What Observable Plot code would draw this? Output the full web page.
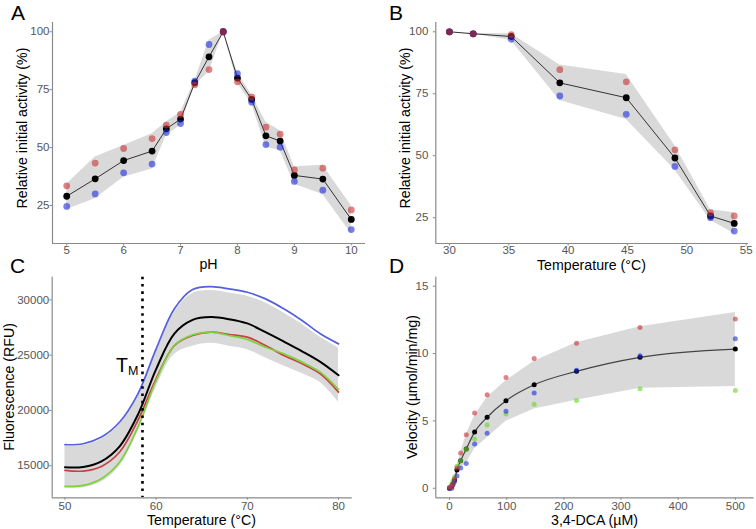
<!DOCTYPE html>
<html><head><meta charset="utf-8">
<script src="https://cdn.jsdelivr.net/npm/d3@7"></script>
<script src="https://cdn.jsdelivr.net/npm/@observablehq/plot@0.6"></script>
<style>
body{margin:0;background:#fff;}
#fig{position:relative;width:756px;height:529px;overflow:hidden;background:#fff;font-family:"Liberation Sans",Arial,sans-serif;}
.panel{position:absolute;}
.lbl{position:absolute;font-family:"Liberation Sans",Arial,sans-serif;font-size:21px;color:#000;line-height:0.8;}
.xt{position:absolute;font-size:14.2px;color:#000;transform:translate(-50%,-50%);white-space:nowrap;line-height:0.85;}
.yt{position:absolute;font-size:14.2px;color:#000;transform:translate(-50%,-50%) rotate(-90deg);white-space:nowrap;line-height:0.85;}
.tm{position:absolute;font-size:19.5px;color:#000;line-height:1;white-space:nowrap;}
</style></head><body><div id="fig"></div>
<script>
// ---------- Panel A: pH ----------
const pH      = [5, 5.5, 6, 6.5, 6.75, 7, 7.25, 7.5, 7.75, 8, 8.25, 8.5, 8.75, 9, 9.5, 10];
const pHMean  = [29.0, 36.5, 44.4, 48.5, 58.1, 62.3, 78.0, 89.2, 100, 80.0, 70.8, 55.1, 52.8, 38.0, 36.4, 19.0];
const pHRed   = [33.5, 43.3, 49.6, 53.9, 59.7, 64.3, 77.1, 83.7, 100, 78.4, 71.9, 58.8, 55.8, 40.4, 41.1, 23.1];
const pHBlue  = [24.6, 30.0, 39.1, 42.9, 56.5, 60.4, 78.7, 94.5, 100, 81.9, 69.6, 51.3, 50.2, 35.4, 31.6, 14.6];
const pHHi    = [34.2, 45.9, 50.9, 56.0, 61.0, 65.3, 78.9, 96.3, 100, 82.6, 72.6, 61.0, 57.3, 41.7, 42.4, 24.9];
const pHLo    = [23.3, 27.9, 37.2, 40.8, 55.2, 59.6, 76.8, 82.6, 100, 77.8, 68.9, 50.1, 48.7, 34.2, 29.7, 12.8];
const pHTicks = [5, 6, 7, 8, 9, 10];
const actTicks = [25, 50, 75, 100];

// ---------- Panel B: temperature activity ----------
const tempB     = [30, 32, 35.2, 39.3, 44.9, 49, 52, 54];
const tempMean  = [100, 99.2, 98.1, 79.4, 73.4, 49.1, 25.7, 22.7];
const tempRed   = [100, 99.2, 98.8, 84.7, 79.8, 52.4, 27.0, 25.7];
const tempBlue  = [100, 99.2, 97.0, 74.1, 66.7, 45.7, 25.0, 19.6];
const tempHi    = [100, 99.3, 99.2, 86.6, 82.8, 54.0, 28.2, 27.0];
const tempLo    = [100, 99.1, 96.5, 72.3, 64.6, 44.2, 24.0, 18.5];
const tempBTicks = [30, 35, 40, 45, 50, 55];

// ---------- Panel C: melt curves ----------
const tempC   = [50, 52, 54, 56, 58, 60, 62, 64, 66, 68, 70, 72, 74, 76, 78, 80];
const fluBlue = [16900, 16990, 17590, 18950, 21500, 25570, 29190, 30930, 31200, 30990, 30690, 30090, 29190, 28130, 26930, 26020];
const fluRed  = [14580, 14520, 14940, 16240, 19100, 22860, 25870, 26780, 27080, 26870, 26630, 25870, 24970, 24220, 23310, 21660];
const fluGreen= [13130, 13220, 13830, 15330, 18490, 22710, 25870, 26840, 27080, 26780, 26420, 25720, 25120, 24370, 23460, 21900];
const fluMean = [14860, 14890, 15400, 16760, 19620, 23740, 26950, 28190, 28440, 28250, 27870, 27080, 26230, 25350, 24390, 23180];
const fluHi   = [16770, 16820, 17390, 18720, 21290, 25330, 28890, 30570, 30840, 30620, 30320, 29710, 28820, 27790, 26610, 25650];
const fluLo   = [12970, 13000, 13520, 14960, 18110, 22100, 25070, 25800, 26070, 25800, 25500, 24750, 24030, 23350, 22520, 20740];
const tempCTicks = [50, 60, 70, 80];
const fluTicks = [15000, 20000, 25000, 30000];
const tm = [58.5];

// ---------- Panel D: kinetics ----------
const dca      = [0, 3.9, 5.9, 8.8, 13, 19.5, 29.3, 43.9, 65.8, 98.8, 148.1, 222.2, 333.3, 500];
const velMean  = [0, 0.15, 0.35, 0.62, 1.36, 2.05, 2.92, 4.17, 5.27, 6.5, 7.68, 8.68, 9.72, 10.33];
const velRed   = [0.05, 0.1, 0.3, 0.7, 1.5, 2.62, 3.98, 5.58, 6.95, 8.23, 9.63, 10.77, 11.93, 12.57];
const velBlue  = [0, 0.0, 0.25, 0.5, 0.9, 1.5, 1.84, 3.28, 4.08, 5.72, 7.08, 8.76, 9.83, 11.1];
const velGreen = [0.1, 0.3, 0.55, 0.85, 1.63, 2.05, 2.9, 3.65, 4.7, 5.52, 6.24, 6.51, 7.38, 7.25];
const velHi    = [0.05, 0.3, 0.5, 0.85, 1.73, 2.62, 3.97, 5.39, 6.74, 7.99, 9.42, 10.8, 11.99, 13.05];
const velLo    = [0, 0.0, 0.2, 0.35, 0.95, 1.5, 1.83, 2.93, 3.74, 4.97, 5.88, 6.54, 7.43, 7.55];
const dcaTicks = [0, 100, 200, 300, 400, 500];
const velTicks = [0, 5, 10, 15];

// colours
const RED = "rgb(200,50,50)", BLUE = "rgb(30,45,220)", GREEN = "rgb(110,215,50)";
const LRED = "rgb(200,65,65)", LBLUE = "rgb(85,95,225)", LGREEN = "rgb(125,210,60)";
const RIB = "#d9d9d9", AXIS = "#8a8a8a";

const fig = document.getElementById("fig");

function rows(xs, cols) {
  return xs.map((x, i) => { const r = {x}; for (const k in cols) r[k] = cols[k][i]; return r; });
}

function panel(cfg, marks) {
  const p = Plot.plot({
    width: cfg.w, height: cfg.h,
    marginLeft: cfg.mL, marginRight: cfg.mR, marginTop: cfg.mT, marginBottom: cfg.mB,
    x: {domain: cfg.xd},
    y: {domain: cfg.yd},
    style: {fontFamily: '"Liberation Sans", Arial, sans-serif', fontSize: "11.5px", color: "#555", background: "transparent", overflow: "visible"},
    marks: [
      ...marks,
      Plot.ruleY([cfg.yd[0]], {stroke: AXIS, strokeWidth: 1.2}),
      Plot.ruleX([cfg.xd[0]], {stroke: AXIS, strokeWidth: 1.2}),
      Plot.axisX(cfg.xt, {tickSize: 2.5, tickPadding: cfg.xp, label: null, tickFormat: d => String(d), stroke: AXIS}),
      Plot.axisY(cfg.yt, {tickSize: 2.5, tickPadding: cfg.yp, label: null, tickFormat: d => String(d), stroke: AXIS})
    ]
  });
  const d = document.createElement("div");
  d.className = "panel";
  d.style.left = cfg.left + "px"; d.style.top = cfg.top + "px";
  d.appendChild(p);
  fig.appendChild(d);
}

function addText(cls, txt, x, y) {
  const d = document.createElement("div");
  d.className = cls; d.textContent = txt;
  d.style.left = x + "px"; d.style.top = y + "px";
  fig.appendChild(d);
}

// Panel A
const dA = rows(pH, {m: pHMean, r: pHRed, b: pHBlue, hi: pHHi, lo: pHLo});
panel({left: 0, top: 0, w: 378, h: 264, mL: 52, mR: 13, mT: 22, mB: 21,
       xd: [4.75, 10.25], yd: [8.6, 104.0], xt: pHTicks, yt: actTicks, xp: 0, yp: 0.5}, [
  Plot.areaY(dA, {x: "x", y1: "lo", y2: "hi", fill: RIB}),
  Plot.line(dA, {x: "x", y: "m", stroke: "#333", strokeWidth: 1}),
  Plot.dot(dA, {x: "x", y: "m", r: 3.4, fill: "#000"}),
  Plot.dot(dA, {x: "x", y: "b", r: 3.4, fill: BLUE, fillOpacity: 0.6}),
  Plot.dot(dA, {x: "x", y: "r", r: 3.4, fill: RED, fillOpacity: 0.6})
]);

// Panel B
const dB = rows(tempB, {m: tempMean, r: tempRed, b: tempBlue, hi: tempHi, lo: tempLo});
panel({left: 378, top: 0, w: 378, h: 264, mL: 57.3, mR: 8, mT: 22, mB: 21,
       xd: [28.85, 55.2], yd: [14.6, 103.75], xt: tempBTicks, yt: actTicks, xp: 0, yp: 5}, [
  Plot.areaY(dB, {x: "x", y1: "lo", y2: "hi", fill: RIB}),
  Plot.line(dB, {x: "x", y: "m", stroke: "#333", strokeWidth: 1}),
  Plot.dot(dB, {x: "x", y: "m", r: 3.4, fill: "#000"}),
  Plot.dot(dB, {x: "x", y: "b", r: 3.4, fill: BLUE, fillOpacity: 0.6}),
  Plot.dot(dB, {x: "x", y: "r", r: 3.4, fill: RED, fillOpacity: 0.6})
]);

// Panel C
const dC = rows(tempC, {m: fluMean, r: fluRed, g: fluGreen, b: fluBlue, hi: fluHi, lo: fluLo});
panel({left: 0, top: 264, w: 378, h: 265, mL: 51.7, mR: 26.3, mT: 12.7, mB: 31.7,
       xd: [48.6, 81.5], yd: [12100, 32050], xt: tempCTicks, yt: fluTicks, xp: 1.5, yp: 0.5}, [
  Plot.areaY(dC, {x: "x", y1: "lo", y2: "hi", fill: RIB, curve: "catmull-rom"}),
  Plot.line(dC, {x: "x", y: "b", stroke: LBLUE, strokeWidth: 1.7, curve: "catmull-rom"}),
  Plot.line(dC, {x: "x", y: "r", stroke: LRED, strokeWidth: 1.7, curve: "catmull-rom"}),
  Plot.line(dC, {x: "x", y: "g", stroke: LGREEN, strokeWidth: 1.7, curve: "catmull-rom"}),
  Plot.line(dC, {x: "x", y: "m", stroke: "#000", strokeWidth: 2, curve: "catmull-rom"}),
  Plot.ruleX(tm, {stroke: "#000", strokeWidth: 2.6, strokeDasharray: "2.6,4.7"})
]);

// Panel D
const dD = rows(dca, {m: velMean, r: velRed, g: velGreen, b: velBlue, hi: velHi, lo: velLo});
panel({left: 378, top: 264, w: 378, h: 265, mL: 57.3, mR: 2.3, mT: 12.7, mB: 31.7,
       xd: [-24, 533], yd: [-0.71, 15.67], xt: dcaTicks, yt: velTicks, xp: 1.5, yp: 5}, [
  Plot.areaY(dD, {x: "x", y1: "lo", y2: "hi", fill: RIB}),
  Plot.line(dD, {x: "x", y: "m", stroke: "#444", strokeWidth: 1.2, curve: "monotone-x"}),
  Plot.dot(dD, {x: "x", y: "m", r: 2.5, fill: "#000"}),
  Plot.dot(dD, {x: "x", y: "g", r: 2.5, fill: GREEN, fillOpacity: 0.65}),
  Plot.dot(dD, {x: "x", y: "b", r: 2.5, fill: BLUE, fillOpacity: 0.6}),
  Plot.dot(dD, {x: "x", y: "r", r: 2.5, fill: RED, fillOpacity: 0.6})
]);

// axis titles
addText("xt", "pH", 208.5, 264);
addText("xt", "Temperature (°C)", 591.5, 264.5);
addText("xt", "Temperature (°C)", 201.5, 519.5);
addText("xt", "3,4-DCA (µM)", 594.5, 519.5);
addText("yt", "Relative initial activity (%)", 22, 127.5);
addText("yt", "Relative initial activity (%)", 405, 127.5);
addText("yt", "Fluorescence (RFU)", 9.2, 386.7);
addText("yt", "Velocity (µmol/min/mg)", 412, 386.7);

// panel letters
addText("lbl", "A", 11, 4.5);
addText("lbl", "B", 389, 4.5);
addText("lbl", "C", 10, 257.5);
addText("lbl", "D", 389, 257.5);

// T_M annotation
const tmd = document.createElement("div");
tmd.className = "tm";
tmd.style.left = "116px"; tmd.style.top = "356px";
tmd.innerHTML = 'T<span style="font-size:12.5px;vertical-align:-3px">M</span>';
fig.appendChild(tmd);
</script></body></html>
